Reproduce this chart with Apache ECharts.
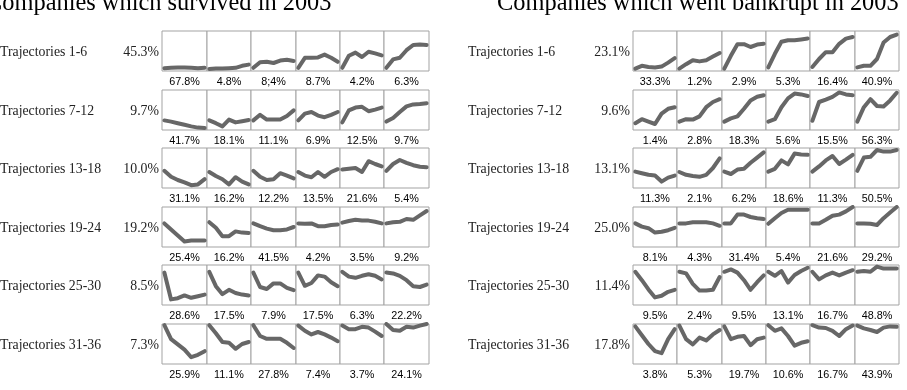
<!DOCTYPE html>
<html>
<head>
<meta charset="utf-8">
<script src="https://cdn.jsdelivr.net/npm/echarts@6/dist/echarts.min.js"></script>
<style>
  html, body { margin: 0; padding: 0; background: #fff; }
  #main { width: 907px; height: 390px; }
</style>
</head>
<body>
<div id="main"></div>
<script>
// --- data ---
const panelTitles = ['Companies which survived in 2003', 'Companies which went bankrupt in 2003'];
const rowLabels = ['Trajectories 1-6', 'Trajectories 7-12', 'Trajectories 13-18',
  'Trajectories 19-24', 'Trajectories 25-30', 'Trajectories 31-36'];
const steps = [0, 1, 2, 3, 4, 5, 6];

const survivedRowShares = ['45.3%', '9.7%', '10.0%', '19.2%', '8.5%', '7.3%'];
const survivedShares = [
  ['67.8%', '4.8%', '8;4%', '8.7%', '4.2%', '6.3%'],
  ['41.7%', '18.1%', '11.1%', '6.9%', '12.5%', '9.7%'],
  ['31.1%', '16.2%', '12.2%', '13.5%', '21.6%', '5.4%'],
  ['25.4%', '16.2%', '41.5%', '4.2%', '3.5%', '9.2%'],
  ['28.6%', '17.5%', '7.9%', '17.5%', '6.3%', '22.2%'],
  ['25.9%', '11.1%', '27.8%', '7.4%', '3.7%', '24.1%']
];
const survivedTrajectories = [
  [[7, 8, 9, 9, 8, 7, 8], [5, 6, 6, 7, 8, 13, 16], [8, 22, 23, 20, 26, 28, 25],
   [8, 33, 33, 34, 41, 33, 23], [8, 38, 46, 35, 48, 44, 39], [8, 29, 33, 52, 65, 66, 65]],
  [[24, 21, 17, 13, 9, 6, 5], [24, 17, 9, 26, 19, 22, 25], [24, 38, 26, 26, 26, 35, 49],
   [24, 41, 45, 36, 32, 38, 45], [19, 49, 56, 58, 47, 51, 56], [21, 30, 45, 59, 64, 65, 67]],
  [[43, 28, 20, 14, 7, 9, 22], [40, 30, 22, 9, 27, 16, 9], [43, 28, 20, 22, 37, 31, 24],
   [40, 31, 27, 40, 28, 40, 47], [46, 48, 50, 40, 67, 60, 54], [43, 60, 70, 63, 57, 53, 52]],
  [[59, 44, 29, 14, 16, 16, 16], [62, 48, 27, 27, 39, 36, 35], [59, 52, 46, 42, 42, 44, 50],
   [59, 58, 59, 52, 52, 55, 56], [61, 65, 68, 66, 66, 63, 59], [59, 62, 63, 70, 68, 79, 90]],
  [[81, 14, 17, 24, 18, 22, 26], [83, 47, 27, 38, 30, 26, 24], [81, 45, 40, 54, 54, 43, 37],
   [81, 48, 55, 74, 71, 57, 47], [83, 71, 68, 73, 77, 73, 64], [81, 79, 73, 62, 47, 45, 51]],
  [[97, 62, 49, 36, 17, 23, 32], [97, 77, 55, 53, 38, 50, 55], [97, 70, 63, 63, 63, 53, 40],
   [96, 83, 74, 80, 74, 66, 57], [96, 87, 87, 93, 91, 81, 70], [100, 85, 83, 93, 91, 96, 100]]
];

const bankruptRowShares = ['23.1%', '9.6%', '13.1%', '25.0%', '11.4%', '17.8%'];
const bankruptShares = [
  ['33.3%', '1.2%', '2.9%', '5.3%', '16.4%', '40.9%'],
  ['1.4%', '2.8%', '18.3%', '5.6%', '15.5%', '56.3%'],
  ['11.3%', '2.1%', '6.2%', '18.6%', '11.3%', '50.5%'],
  ['8.1%', '4.3%', '31.4%', '5.4%', '21.6%', '29.2%'],
  ['9.5%', '2.4%', '9.5%', '13.1%', '16.7%', '48.8%'],
  ['3.8%', '5.3%', '19.7%', '10.6%', '16.7%', '43.9%']
];
const bankruptTrajectories = [
  [[6, 13, 10, 9, 11, 21, 32], [6, 17, 27, 24, 27, 36, 45], [6, 38, 67, 67, 60, 66, 68],
   [9, 43, 73, 77, 77, 79, 81], [10, 30, 47, 47, 68, 81, 85], [9, 13, 13, 30, 71, 85, 91]],
  [[17, 27, 21, 15, 41, 53, 57], [21, 27, 26, 34, 57, 70, 77], [21, 29, 34, 53, 74, 83, 87],
   [21, 27, 57, 79, 91, 89, 85], [23, 70, 76, 83, 94, 89, 87], [21, 57, 77, 60, 59, 74, 93]],
  [[41, 37, 33, 31, 16, 26, 31], [40, 33, 30, 28, 33, 50, 74], [41, 35, 46, 48, 63, 76, 89],
   [41, 48, 69, 59, 86, 84, 83], [41, 54, 69, 80, 60, 71, 83], [43, 76, 78, 95, 91, 91, 95]],
  [[59, 51, 47, 36, 38, 42, 48], [59, 59, 62, 62, 62, 59, 53], [59, 59, 81, 81, 75, 72, 70],
   [58, 72, 85, 93, 93, 93, 93], [59, 59, 68, 78, 81, 89, 100], [59, 59, 58, 55, 72, 86, 100]],
  [[83, 62, 39, 19, 23, 33, 38], [83, 79, 53, 36, 36, 38, 70], [83, 89, 81, 62, 38, 57, 74],
   [83, 73, 85, 56, 75, 85, 93], [83, 64, 74, 81, 74, 81, 87], [83, 85, 83, 96, 91, 91, 91]],
  [[94, 72, 50, 32, 27, 62, 87], [96, 62, 49, 66, 59, 74, 85], [94, 62, 68, 70, 47, 62, 66],
   [97, 83, 89, 70, 46, 53, 57], [97, 91, 90, 83, 70, 87, 96], [96, 89, 85, 80, 91, 94, 93]]
];

// --- layout ---
const panels = [
  { title: panelTitles[0], titleX: -14, labelX: 0, shareX: 159, boxX: 162.3,
    rowShares: survivedRowShares, shares: survivedShares, data: survivedTrajectories },
  { title: panelTitles[1], titleX: 497, labelX: 468, shareX: 630, boxX: 632.7,
    rowShares: bankruptRowShares, shares: bankruptShares, data: bankruptTrajectories }
];
const boxW = 44.4, boxH = 40, rowTop0 = 31, rowPitch = 58.6;
const serif = '"Liberation Serif", "Times New Roman", serif';

const grid = [], xAxis = [], yAxis = [], series = [], graphic = [];

panels.forEach(function (p) {
  graphic.push({
    type: 'text', left: p.titleX, top: -8,
    style: { text: p.title, font: '24.4px ' + serif, fill: '#000' }
  });
  for (let r = 0; r < 6; r++) {
    const top = Math.round(rowTop0 + r * rowPitch);
    graphic.push({
      type: 'text', x: p.labelX, y: top + 21,
      style: { text: rowLabels[r], font: '13.8px ' + serif, fill: '#222', verticalAlign: 'middle' }
    });
    graphic.push({
      type: 'text', x: p.shareX, y: top + 21,
      style: { text: p.rowShares[r], font: '13.8px ' + serif, fill: '#222',
        align: 'right', verticalAlign: 'middle' }
    });
    for (let c = 0; c < 6; c++) {
      const idx = grid.length;
      const left = Math.round(p.boxX + c * boxW);
      const right = Math.round(p.boxX + (c + 1) * boxW);
      grid.push({
        left: left, top: top, width: right - left, height: boxH,
        show: true, borderColor: '#a3a3a3', borderWidth: 1, backgroundColor: '#fff'
      });
      xAxis.push({
        type: 'value', gridIndex: idx, min: -0.35, max: 6.35,
        axisLine: { show: false }, axisTick: { show: false },
        axisLabel: { show: false }, splitLine: { show: false },
        name: p.shares[r][c], nameLocation: 'middle', nameGap: 6,
        nameTextStyle: { fontFamily: '"Liberation Sans", Arial, sans-serif',
          fontSize: 10.8, color: '#000', verticalAlign: 'top' }
      });
      yAxis.push({
        type: 'value', gridIndex: idx, min: 0, max: 100, show: false
      });
      series.push({
        type: 'line', xAxisIndex: idx, yAxisIndex: idx,
        data: steps.map(function (s, i) { return [s, p.data[r][c][i]]; }),
        symbol: 'none', silent: true, clip: true,
        lineStyle: { color: '#676767', width: 4, cap: 'round', join: 'round' }
      });
    }
  }
});

const chart = echarts.init(document.getElementById('main'));
chart.setOption({
  animation: false,
  backgroundColor: '#fff',
  grid: grid,
  xAxis: xAxis,
  yAxis: yAxis,
  series: series,
  graphic: graphic
});
</script>
</body>
</html>
